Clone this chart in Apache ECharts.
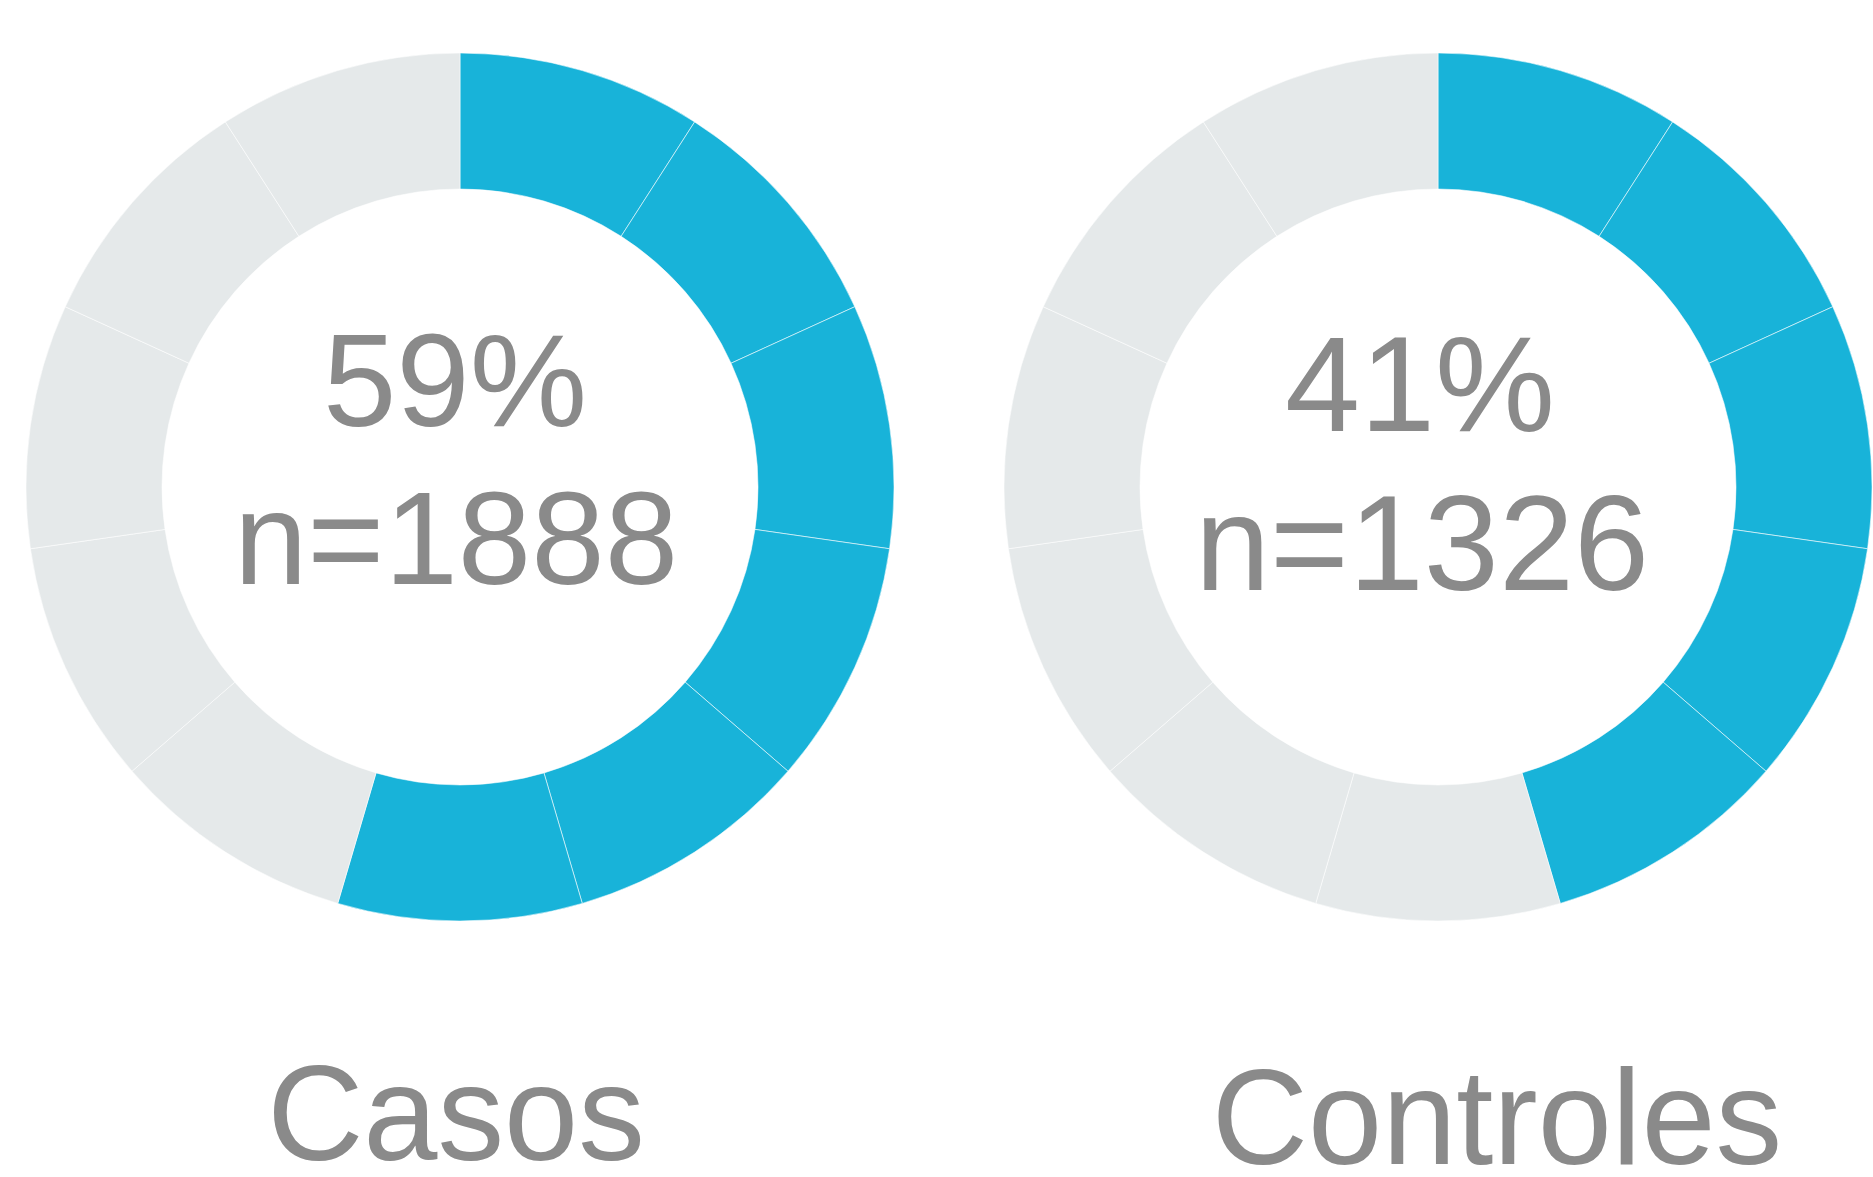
<!DOCTYPE html>
<html>
<head>
<meta charset="utf-8">
<script src="https://cdn.jsdelivr.net/npm/echarts@6/dist/echarts.min.js"></script>
<style>
  html, body { margin: 0; padding: 0; background: #fff; }
  #main { width: 1873px; height: 1177px; }
</style>
</head>
<body>
<div id="main"></div>
<script>
// grupos e valores
var groups = ['Casos', 'Controles'];
var percents = [59, 41];
var counts = [1888, 1326];
// 11 segmentos por anel: 1 = preenchido (azul), 0 = vazio (cinza)
var casosSegments = [1, 1, 1, 1, 1, 1, 0, 0, 0, 0, 0];
var controlesSegments = [1, 1, 1, 1, 1, 0, 0, 0, 0, 0, 0];

var BLUE = '#18b3d9';
var GREY = '#e5e9ea';
var TEXT = '#8a8a8a';
var FONT = '"Liberation Sans", Arial, Helvetica, sans-serif';

var myChart = echarts.init(document.getElementById('main'), null, { renderer: 'svg' });

function ring(name, segs, center) {
  return {
    name: name,
    type: 'pie',
    center: center,
    radius: [298, 434],
    startAngle: 90,
    clockwise: true,
    silent: true,
    label: { show: false },
    labelLine: { show: false },
    itemStyle: { borderColor: 'rgba(255,255,255,0.55)', borderWidth: 1 },
    data: segs.map(function (s, i) {
      return { name: name + ' ' + (i + 1), value: 1, itemStyle: { color: s ? BLUE : GREY } };
    })
  };
}

function txt(str, x, y, size, sx, lh) {
  return {
    type: 'text',
    x: x,
    y: y,
    scaleX: sx || 1,
    style: {
      text: str,
      fill: TEXT,
      font: size + 'px ' + FONT,
      lineHeight: lh || size,
      align: 'center',
      verticalAlign: 'middle'
    }
  };
}

var option = {
  animation: false,
  series: [
    ring(groups[0], casosSegments, [460, 487]),
    ring(groups[1], controlesSegments, [1438, 487])
  ],
  graphic: [
    txt(percents[0] + '%', 455, 380, 132),
    txt('n=' + counts[0], 456, 538, 132),
    txt(percents[1] + '%', 1420, 384, 135),
    txt('n=' + counts[1], 1422, 543, 135),
    // rótulos dos grupos
    txt(groups[0], 456, 1113, 136, 0.98, 100),
    txt(groups[1], 1497, 1117, 136, 0.98, 100)
  ]
};

myChart.setOption(option);
</script>
</body>
</html>
